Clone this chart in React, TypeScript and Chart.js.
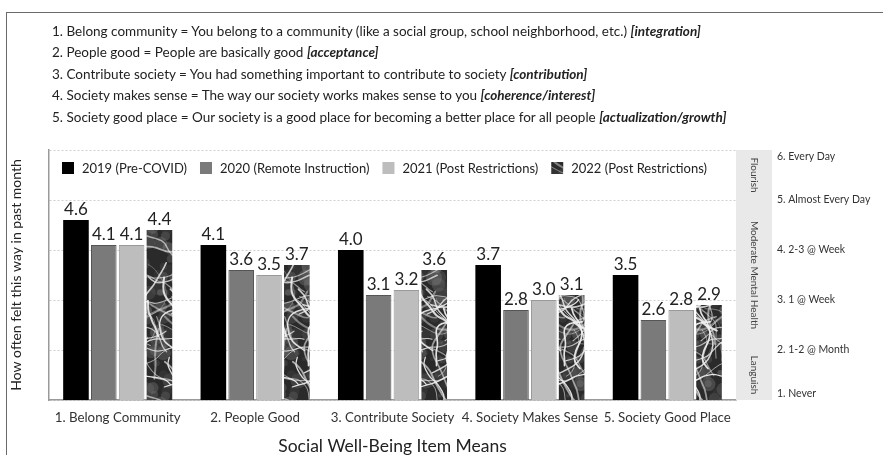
import React, { useEffect, useRef } from 'react';
import { Chart, registerables } from 'chart.js';

Chart.register(...registerables);

const categories = [
  '1. Belong Community',
  '2. People Good',
  '3. Contribute Society',
  '4. Society Makes Sense',
  '5. Society Good Place',
];
const seriesLabels = [
  '2019 (Pre-COVID)',
  '2020 (Remote Instruction)',
  '2021 (Post Restrictions)',
  '2022 (Post Restrictions)',
];
const values2019 = [4.6, 4.1, 4.0, 3.7, 3.5];
const values2020 = [4.1, 3.6, 3.1, 2.8, 2.6];
const values2021 = [4.1, 3.5, 3.2, 3.0, 2.8];
const values2022 = [4.4, 3.7, 3.6, 3.1, 2.9];
const frequencyTicks = [
  '1. Never',
  '2. 1-2 @ Month',
  '3. 1 @ Week',
  '4. 2-3 @ Week',
  '5. Almost Every Day',
  '6. Every Day',
];
const bandNames = ['Languish', 'Moderate Mental Health', 'Flourish'];
const bandFrom = [1, 2, 5];
const bandTo = [2, 5, 6];
const noteLines = [
  { text: '1. Belong community = You belong to a community (like a social group, school neighborhood, etc.) ', tag: '[integration]' },
  { text: '2. People good = People are basically good ', tag: '[acceptance]' },
  { text: '3. Contribute society = You had something important to contribute to society ', tag: '[contribution]' },
  { text: '4. Society makes sense = The way our society works makes sense to you ', tag: '[coherence/interest]' },
  { text: '5. Society good place = Our society is a good place for becoming a better place for all people ', tag: '[actualization/growth]' },
];

const FONT = 'Lato, "Noto Sans", sans-serif';

function makeMarble(): CanvasPattern | string {
  const W = 64;
  const H = 160;
  const c = document.createElement('canvas');
  c.width = W;
  c.height = H;
  const g = c.getContext('2d');
  if (!g) return '#333';
  g.fillStyle = '#2a2a2a';
  g.fillRect(0, 0, W, H);
  let s = 777123;
  const next = () => {
    s = (s * 1103515245 + 12345) & 0x7fffffff;
    return s / 0x7fffffff;
  };
  const wrap = (fn: (ox: number, oy: number) => void) => {
    for (const ox of [-W, 0, W]) for (const oy of [-H, 0, H]) fn(ox, oy);
  };
  for (let i = 0; i < 90; i++) {
    const x = next() * W;
    const y = next() * H;
    const r = 2 + next() * 6;
    const v = 60 + Math.floor(next() * 90);
    g.fillStyle = `rgba(${v},${v},${v},0.35)`;
    wrap((ox, oy) => {
      g.beginPath();
      g.arc(x + ox, y + oy, r, 0, Math.PI * 2);
      g.fill();
    });
  }
  for (let i = 0; i < 34; i++) {
    const pts: number[][] = [];
    let x = next() * W;
    let y = next() * H;
    let ang = next() * Math.PI * 2;
    pts.push([x, y]);
    const steps = 5 + Math.floor(next() * 7);
    for (let k = 0; k < steps; k++) {
      ang += (next() - 0.5) * 1.4;
      const len = 5 + next() * 8;
      x += Math.cos(ang) * len;
      y += Math.sin(ang) * len;
      pts.push([x, y]);
    }
    const a = 0.4 + next() * 0.55;
    const lw = 0.5 + next() * 1.6;
    wrap((ox, oy) => {
      g.strokeStyle = `rgba(240,240,240,${a})`;
      g.lineWidth = lw;
      g.lineJoin = 'round';
      g.lineCap = 'round';
      g.beginPath();
      g.moveTo(pts[0][0] + ox, pts[0][1] + oy);
      for (let k = 1; k < pts.length - 1; k++) {
        const mx = (pts[k][0] + pts[k + 1][0]) / 2;
        const my = (pts[k][1] + pts[k + 1][1]) / 2;
        g.quadraticCurveTo(pts[k][0] + ox, pts[k][1] + oy, mx + ox, my + oy);
      }
      g.stroke();
    });
  }
  return g.createPattern(c, 'repeat') || '#333';
}

const overlayPlugin = {
  id: 'overlayPlugin',
  beforeDatasetsDraw(chart: any) {
    const { ctx, chartArea } = chart;
    const y = chart.scales.y;
    ctx.save();
    const bx = chartArea.right;
    const bw = 36;
    ctx.fillStyle = '#e9e9e9';
    ctx.fillRect(bx, chartArea.top, bw, chartArea.bottom - chartArea.top);
    ctx.fillStyle = '#444';
    ctx.font = `10px ${FONT}`;
    ctx.textAlign = 'center';
    ctx.textBaseline = 'middle';
    bandNames.forEach((name, i) => {
      const cy = (y.getPixelForValue(bandFrom[i]) + y.getPixelForValue(bandTo[i])) / 2;
      ctx.save();
      ctx.translate(bx + bw / 2, cy);
      ctx.rotate(Math.PI / 2);
      ctx.fillText(name, 0, 0);
      ctx.restore();
    });
    ctx.restore();
  },
  afterDatasetsDraw(chart: any) {
    const { ctx, chartArea } = chart;
    ctx.save();
    ctx.font = `17px ${FONT}`;
    ctx.fillStyle = '#222';
    ctx.textAlign = 'center';
    ctx.textBaseline = 'alphabetic';
    chart.data.datasets.forEach((ds: any, di: number) => {
      const meta = chart.getDatasetMeta(di);
      meta.data.forEach((el: any, i: number) => {
        ctx.fillText(Number(ds.data[i]).toFixed(1), el.x, el.y - 5);
      });
    });
    ctx.font = `13px ${FONT}`;
    ctx.textAlign = 'left';
    ctx.textBaseline = 'middle';
    let x = chartArea.left + 13;
    const cy = chartArea.top + 18;
    chart.data.datasets.forEach((ds: any) => {
      ctx.fillStyle = ds.backgroundColor;
      ctx.fillRect(x, cy - 6, 12, 12);
      x += 12 + 8;
      ctx.fillStyle = '#222';
      ctx.fillText(ds.label, x, cy + 1);
      x += ctx.measureText(ds.label).width + 13;
    });
    ctx.restore();
  },
};

export default function App() {
  const ref = useRef<HTMLCanvasElement | null>(null);
  useEffect(() => {
    if (!ref.current) return;
    const marble = makeMarble();
    const chart = new Chart(ref.current, {
      type: 'bar',
      data: {
        labels: categories,
        datasets: [
          { label: seriesLabels[0], data: values2019, backgroundColor: '#000000', borderColor: '#000000', borderWidth: 0 },
          { label: seriesLabels[1], data: values2020, backgroundColor: '#7a7a7a', borderColor: '#555555', borderWidth: 1 },
          { label: seriesLabels[2], data: values2021, backgroundColor: '#bdbdbd', borderColor: '#999999', borderWidth: 1 },
          { label: seriesLabels[3], data: values2022, backgroundColor: marble as any, borderColor: '#333333', borderWidth: 0 },
        ],
      },
      options: {
        animation: false,
        responsive: false,
        devicePixelRatio: 1,
        layout: { padding: { top: 150, left: 0, right: 0, bottom: 0 } },
        datasets: { bar: { categoryPercentage: 0.81, barPercentage: 0.92 } },
        plugins: { legend: { display: false }, tooltip: { enabled: false }, title: { display: false } },
        scales: {
          x: {
            grid: { display: false, drawTicks: false },
            border: { display: true, color: '#9a9a9a', width: 1.5 },
            ticks: { font: { family: FONT, size: 13.3 }, color: '#333', padding: 10, maxRotation: 0, autoSkip: false },
            title: {
              display: true,
              text: 'Social Well-Being Item Means',
              font: { family: FONT, size: 17.5, lineHeight: 1 },
              color: '#222',
              padding: { top: 0, bottom: 0 },
            },
            afterFit: (s: any) => {
              s.height = 55;
            },
          },
          y: {
            min: 1,
            max: 6,
            ticks: { stepSize: 1, display: false },
            grid: { color: '#cfcfcf', lineWidth: 1, drawTicks: false },
            border: { display: true, color: '#9a9a9a', width: 1.5, dash: [2, 2] },
            title: {
              display: true,
              text: 'How often felt this way in past month',
              font: { family: FONT, size: 14 },
              color: '#222',
              padding: { top: 8, bottom: 0 },
            },
            afterFit: (s: any) => {
              s.width = 49;
            },
          },
          y2: {
            position: 'right',
            min: 1,
            max: 6,
            grid: { display: false, drawTicks: false },
            border: { display: false },
            ticks: {
              stepSize: 1,
              padding: 41,
              font: { family: FONT, size: 10.5 },
              color: '#333',
              callback: (v: any) => {
                const i = Math.round(Number(v)) - 1;
                const t = frequencyTicks[i];
                if (i === 5) return ['', t];
                if (i === 0) return [t, ''];
                return t;
              },
            },
            afterFit: (s: any) => {
              s.width = 147;
            },
          },
        },
      },
      plugins: [overlayPlugin],
    } as any);
    return () => chart.destroy();
  }, []);

  return (
    <div style={{ position: 'fixed', left: 0, top: 0, width: 883, height: 455, overflow: 'hidden', background: '#fff' }}>
      <canvas ref={ref} width={883} height={455} style={{ position: 'absolute', left: 0, top: 0 }} />
      <div
        style={{
          position: 'absolute',
          left: 6,
          top: 12,
          width: 1000,
          height: 1000,
          borderTop: '1.5px solid #6a6a6a',
          borderLeft: '1.5px solid #6a6a6a',
          pointerEvents: 'none',
        }}
      />
      <div
        style={{
          position: 'absolute',
          left: 52,
          top: 21,
          fontFamily: FONT,
          fontSize: 13.5,
          lineHeight: '21.4px',
          color: '#222',
          whiteSpace: 'nowrap',
        }}
      >
        {noteLines.map((l, i) => (
          <div key={i}>
            {l.text}
            <b>
              <i>{l.tag}</i>
            </b>
          </div>
        ))}
      </div>
    </div>
  );
}
